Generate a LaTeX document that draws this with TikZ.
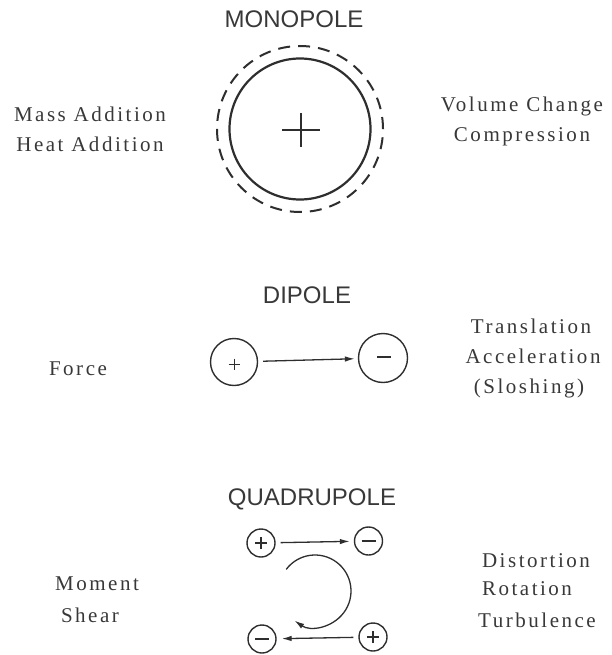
\documentclass[tikz,border=0pt]{standalone}
\usepackage{fontspec}
\setmainfont{Liberation Serif}
\newfontfamily\labfont{Liberation Serif}[LetterSpace=12]
\newfontfamily\titfont{Liberation Sans}
\usetikzlibrary{arrows.meta,calc}
\begin{document}
\begin{tikzpicture}[x=1pt,y=-1pt,
  ink/.style={draw=black!82},
  lab/.style={anchor=base, inner sep=0, text=black!78, font=\labfont\fontsize{21}{25}\selectfont},
  ttl/.style={anchor=base, inner sep=0, text=black!78, font=\titfont\fontsize{24}{28}\selectfont},
  charge/.style={circle, draw=black!82, line width=1.4pt, inner sep=0},
  sign/.style={draw=black!82, line width=1.2pt},
  arr/.style={draw=black!82, line width=1.3pt, -{Latex[length=10pt,width=5.5pt]}}]
\useasboundingbox (0,0) rectangle (611,655);

% ---------- Monopole ----------
\node[ttl] (tmono) at (294,28) {MONOPOLE};
\coordinate (mc) at (300,129);
\node[circle, draw=black!82, line width=2.2pt, minimum size=141pt, inner sep=0] (msolid) at (mc) {};
\node[circle, draw=black!82, line width=2pt, dash pattern=on 12pt off 8.05pt, minimum size=166pt, inner sep=0] (mdash) at (mc) {};
\draw[sign] ($(mc)+(-18,1)$) -- ($(mc)+(20,1)$);
\draw[sign] ($(mc)+(1,-16)$) -- ($(mc)+(1,18)$);
\node[lab] (mass) at (90,122) {Mass Addition};
\node[lab] (heat) at (90,152) {Heat Addition};
\node[lab] (vol) at (522,112) {Volume Change};
\node[lab] (comp) at (522,142) {Compression};

% ---------- Dipole ----------
\node[ttl] (tdi) at (307,303) {DIPOLE};
\node[charge, minimum size=47pt] (dpp) at (234,362) {};
\node[charge, minimum size=49pt] (dpm) at (383,358) {};
\draw[arr, shorten <=5pt, shorten >=3pt] (dpp) -- (dpm);
\draw[sign, line width=1pt] ($(dpp)+(-5.5,2)$) -- ($(dpp)+(5.5,2)$);
\draw[sign, line width=1pt] ($(dpp)+(0,-3.5)$) -- ($(dpp)+(0,7.5)$);
\draw[sign, line width=1.1pt] ($(dpm)+(-6,-1)$) -- ($(dpm)+(8,-1)$);
\node[lab] (force) at (78,375) {Force};
\node[lab] (trans) at (531,333) {Translation};
\node[lab] (accel) at (533,363) {Acceleration};
\node[lab] (slosh) at (529,393) {(Sloshing)};

% ---------- Quadrupole ----------
\node[ttl] (tquad) at (312,505) {QUADRUPOLE};
\node[charge, minimum size=28pt] (q1) at (261,543) {};
\node[charge, minimum size=28pt] (q2) at (368.5,541) {};
\node[charge, minimum size=28pt] (q3) at (262,639) {};
\node[charge, minimum size=28pt] (q4) at (373,637) {};
\draw[arr, shorten <=5pt, shorten >=4pt] (q1) -- (q2);
\draw[arr, shorten <=5pt, shorten >=5pt] (q4) -- (q3);
\draw[sign] ($(q1)+(-6,0)$) -- ($(q1)+(6,0)$);
\draw[sign] ($(q1)+(0,-6)$) -- ($(q1)+(0,6)$);
\draw[sign] ($(q4)+(-6,0)$) -- ($(q4)+(6,0)$);
\draw[sign] ($(q4)+(0,-6)$) -- ($(q4)+(0,6)$);
\draw[sign] ($(q2)+(-7,0)$) -- ($(q2)+(7,0)$);
\draw[sign] ($(q3)+(-7,0)$) -- ($(q3)+(7,0)$);
\coordinate (rc) at (315,591);
\draw[arr] ($(rc)+(217:36)$) arc[start angle=217, end angle=485, radius=36];
\node[lab] (moment) at (97,590) {Moment};
\node[lab] (shear) at (90,622) {Shear};
\node[lab] (dist) at (536,567) {Distortion};
\node[lab] (rot) at (527,595) {Rotation};
\node[lab] (turb) at (537,627) {Turbulence};
\end{tikzpicture}
\end{document}
